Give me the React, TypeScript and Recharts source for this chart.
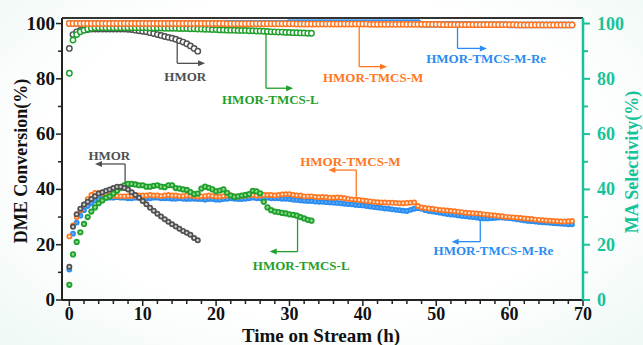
import { ComposedChart, Scatter, XAxis, YAxis, ReferenceLine, ReferenceDot, Label } from "recharts"

// sampling step of the measurements (h)
const STEP = 0.5

const xTicks = [0, 2, 4, 6, 8, 10, 12, 14, 16, 18, 20, 22, 24, 26, 28, 30, 32, 34, 36, 38, 40, 42, 44, 46, 48, 50, 52, 54, 56, 58, 60, 62, 64, 66, 68, 70]
const yTicks = [0, 10, 20, 30, 40, 50, 60, 70, 80, 90, 100]

// DME conversion (%)
const hmorConv = [12, 26.5, 31, 33, 34.5, 35.5, 36.5, 37.5, 38.5, 39, 39.5, 40, 40.5, 41, 41, 40.5, 40, 39, 38, 37, 35.8, 34.6, 33.4, 32.3, 31.2, 30.2, 29.2, 28.3, 27.4, 26.6, 25.8, 25, 24.3, 23.6, 22.4, 21.6]
const tmcsLConv = [
  5.5, 16.5, 21, 24.5, 27.5, 30, 32, 33.5, 35, 36,
  37, 37.5, 38.5, 39.5, 40.5, 41.5, 42, 42, 41.8, 41.5,
  41.5, 41, 41, 41.3, 41.5, 41, 40.8, 41.5, 41.5, 40.5,
  40.3, 40, 39.8, 39, 38.3, 38.5, 40.3, 41, 40.6, 40,
  39.3, 39.6, 40, 38.8, 37.8, 37.3, 37.5, 37.8, 38, 38.3,
  39.5, 39.3, 38.6, 35.5, 33.5, 32.5, 32, 31.8, 31.5, 31.3,
  31, 30.8, 30.5, 30, 29.5, 29, 28.7,
]
const tmcsMConv = [
  23, 27, 30, 32.5, 34.5, 36.5, 38, 38.7, 38.7, 38.5,
  38.2, 37.9, 37.7, 37.6, 37.5, 37.5, 37.6, 37.6, 37.7, 37.8,
  37.8, 37.8, 38, 37.8, 37.8, 37.6, 37.8, 38, 37.8, 37.8,
  37.6, 37.6, 37.8, 37.8, 37.6, 37.4, 37.5, 37.6, 37.8, 37.6,
  37.4, 37.4, 37.6, 37.8, 37.8, 37.6, 37.4, 37.6, 37.8, 38,
  38, 37.8, 37.8, 38, 38, 38, 37.8, 38, 38.2, 38.3,
  38.3, 38, 37.8, 37.8, 37.5, 37.5, 37.5, 37.3, 37.2, 37.3,
  37.2, 37, 37, 37.1, 37, 36.8, 36.6, 36.4, 36.3, 36.2,
  36, 35.8, 35.7, 35.5, 35.4, 35.3, 35.3, 35.2, 35.2, 35.1,
  35, 35, 35.1, 35.2, 35.3, 34, 33.5, 33.3, 33.1, 33,
  32.8, 32.6, 32.5, 32.4, 32.2, 32.1, 32, 31.8, 31.6, 31.5,
  31.4, 31.3, 31.2, 31, 30.9, 30.7, 30.6, 30.4, 30.3, 30.1,
  30, 29.9, 29.8, 29.7, 29.5, 29.4, 29.3, 29.1, 29, 28.9,
  28.8, 28.7, 28.6, 28.5, 28.4, 28.4, 28.5, 28.6,
]
const tmcsMReConv = [
  11, 24, 28, 30.5, 32.5, 34, 35, 36, 36.5, 36.8,
  37, 37, 37, 37.2, 37, 37, 36.8, 36.8, 37, 37,
  37, 36.8, 36.8, 37, 37, 36.8, 36.8, 36.8, 36.6, 36.6,
  36.8, 36.6, 36.5, 36.6, 36.6, 36.5, 36.5, 36.3, 36.5, 36.5,
  36.3, 36.3, 36.5, 36.6, 36.8, 36.6, 36.5, 36.5, 36.6, 36.8,
  37, 36.8, 36.8, 37, 37, 36.8, 36.8, 36.8, 36.6, 36.6,
  36.5, 36.3, 36.2, 36, 35.9, 35.8, 35.8, 35.6, 35.5, 35.5,
  35.4, 35.3, 35.2, 35.1, 35, 34.8, 34.7, 34.6, 34.4, 34.3,
  34.2, 34, 33.8, 33.6, 33.5, 33.3, 33.1, 33, 32.8, 32.6,
  32.5, 32.3, 32.2, 32.6, 33, 33.2, 33, 32.5, 32.2, 32,
  31.8, 31.6, 31.3, 31.1, 30.9, 30.8, 30.6, 30.4, 30.3, 30.1,
  30, 29.8, 29.6, 29.5, 29.5, 29.6, 29.7, 29.8, 29.8, 29.7,
  29.6, 29.4, 29.2, 29, 28.8, 28.6, 28.5, 28.4, 28.2, 28.1,
  28, 27.9, 27.8, 27.7, 27.6, 27.5, 27.4, 27.4,
]

// MA selectivity (%)
const hmorSel = [91, 96, 97, 97.5, 97.7, 97.8, 98, 98, 98, 98, 98, 98, 98, 98, 98, 98, 97.9, 97.8, 97.6, 97.4, 97.2, 97, 96.7, 96.4, 96, 95.7, 95.3, 95, 94.7, 94.3, 93.8, 93.3, 92.7, 91.9, 91, 90]
const tmcsLSel = [
  82, 94, 96, 97, 97.6, 98, 98.3, 98.5, 98.5, 98.5,
  98.5, 98.5, 98.5, 98.5, 98.5, 98.5, 98.5, 98.5, 98.5, 98.5,
  98.5, 98.5, 98.4, 98.4, 98.4, 98.4, 98.3, 98.3, 98.3, 98.3,
  98.2, 98.2, 98.2, 98.1, 98.1, 98, 98, 97.9, 97.9, 97.8,
  97.8, 97.7, 97.7, 97.6, 97.6, 97.6, 97.5, 97.5, 97.5, 97.4,
  97.4, 97.3, 97.3, 97.2, 97.1, 97, 97, 96.9, 96.9, 96.8,
  96.8, 96.7, 96.7, 96.6, 96.6, 96.5, 96.5,
]
const tmcsMSel = [
  100, 100, 100, 100, 100, 100, 100, 100, 100, 100,
  100, 100, 100, 100, 100, 100, 100, 100, 100, 100,
  100, 100, 100, 100, 100, 100, 100, 100, 100, 100,
  100, 100, 100, 100, 100, 100, 100, 100, 100, 100,
  100, 100, 100, 99.9, 99.9, 99.9, 99.9, 99.9, 99.9, 99.9,
  99.9, 99.9, 99.9, 99.9, 99.9, 99.9, 99.9, 99.9, 99.9, 99.9,
  99.9, 99.9, 99.8, 99.8, 99.8, 99.8, 99.8, 99.8, 99.8, 99.8,
  99.8, 99.8, 99.8, 99.8, 99.8, 99.8, 99.8, 99.8, 99.8, 99.8,
  99.8, 99.8, 99.7, 99.7, 99.7, 99.7, 99.7, 99.7, 99.7, 99.7,
  99.7, 99.7, 99.7, 99.7, 99.7, 99.7, 99.7, 99.7, 99.7, 99.7,
  99.7, 99.7, 99.6, 99.6, 99.6, 99.6, 99.6, 99.6, 99.6, 99.6,
  99.6, 99.6, 99.6, 99.6, 99.6, 99.6, 99.6, 99.6, 99.6, 99.6,
  99.6, 99.6, 99.5, 99.5, 99.5, 99.5, 99.5, 99.5, 99.5, 99.5,
  99.5, 99.5, 99.5, 99.5, 99.5, 99.5, 99.5, 99.5,
]
const tmcsMReSel = [
  100, 100, 100, 100, 100, 100, 100, 100, 100, 100,
  100, 100, 100, 100, 100, 100, 100, 100, 100, 100,
  100, 100, 100, 100, 100, 100, 100, 100, 100, 100,
  100, 100, 100, 100, 100, 100, 100, 100, 100, 100,
  100, 100, 100, 100, 100, 100, 100, 100, 100, 100,
  100, 100, 100, 100, 100, 100, 100, 100, 100, 100,
  100.3, 100.3, 100.3, 100.3, 100.3, 100.3, 100.3, 100.3, 100.3, 100.3,
  100.3, 100.3, 100.3, 100.3, 100.3, 100.3, 100.3, 100.3, 100.3, 100.3,
  100.3, 100.3, 100.3, 100.3, 100.3, 100.3, 100.3, 100.3, 100.3, 100.3,
  100.3, 100.3, 100.3, 100.3, 100.3, 100.3, 99.7, 99.7, 99.7, 99.7,
  99.7, 99.7, 99.7, 99.7, 99.7, 99.7, 99.7, 99.7, 99.7, 99.7,
  99.6, 99.6, 99.6, 99.6, 99.6, 99.6, 99.6, 99.6, 99.6, 99.6,
  99.5, 99.5, 99.5, 99.5, 99.5, 99.5, 99.5, 99.5, 99.5, 99.5,
  99.5, 99.5, 99.5, 99.5, 99.5, 99.5, 99.5, 99.5,
]

const GRAY = "#505050"
const GREEN = "#1f9f2b"
const ORANGE = "#ff7722"
const BLUE = "#2a8cf0"
const TEAL = "#17c29b"
const serif = { fontFamily: "'Liberation Serif', 'Times New Roman', Times, serif", fontWeight: 700 }

const toPoints = (vals: number[]) => vals.map((v, i) => ({ t: i * STEP, v }))

const ball = (fill: string, core: string, r = 2.9) => (p: any) => (
  <g>
    <circle cx={p.cx} cy={p.cy} r={r} fill={fill} />
    <circle cx={p.cx} cy={p.cy} r={r * 0.42} fill={core} />
  </g>
)
const ring = (stroke: string) => (p: any) => (
  <circle cx={p.cx} cy={p.cy} r={2.7} fill="#fff" stroke={stroke} strokeWidth={1.45} />
)

// annotations: stem [x, yFrom, yTo], arrow runs horizontally to arrowX at yTo
const notes = [
  { text: "HMOR", color: GRAY, stem: [14.7, 94.8, 85.6], arrowX: 18.5, tx: 15.8, ty: 81 },
  { text: "HMOR", color: GRAY, stem: [7.6, 41.5, 49.2], arrowX: 3.5, tx: 5.45, ty: 52.2 },
  { text: "HMOR-TMCS-L", color: GREEN, stem: [26.8, 97.3, 76.6], arrowX: 30.5, tx: 27.4, ty: 72.7 },
  { text: "HMOR-TMCS-M", color: ORANGE, stem: [39.5, 99.6, 84.4], arrowX: 43.3, tx: 41.4, ty: 80.4 },
  { text: "HMOR-TMCS-M-Re", color: BLUE, stem: [52.9, 99.6, 91], arrowX: 56.9, tx: 56.8, ty: 87.3 },
  { text: "HMOR-TMCS-M", color: ORANGE, stem: [39.1, 36.8, 47], arrowX: 35.3, tx: 38.3, ty: 50 },
  { text: "HMOR-TMCS-L", color: GREEN, stem: [31.1, 30.5, 17.5], arrowX: 27.3, tx: 31.6, ty: 12.5 },
  { text: "HMOR-TMCS-M-Re", color: BLUE, stem: [56, 30.8, 21.1], arrowX: 52.1, tx: 57.8, ty: 17.8 },
]

const plainLine = (color: string) => (p: any) => (
  <line x1={p.x1} y1={p.y1} x2={p.x2} y2={p.y2} stroke={color} strokeWidth={1.3} />
)
const arrowLine = (color: string) => (p: any) => {
  const dir = p.x2 > p.x1 ? 1 : -1
  return (
    <g>
      <line x1={p.x1} y1={p.y1} x2={p.x2 - dir * 5} y2={p.y2} stroke={color} strokeWidth={1.3} />
      <path d={`M${p.x2},${p.y2} L${p.x2 - dir * 7},${p.y2 - 3} L${p.x2 - dir * 7},${p.y2 + 3} Z`} fill={color} />
    </g>
  )
}

const XTick = (p: any) => {
  const v = p.payload.value
  const major = v % 10 === 0
  return (
    <g>
      <line x1={p.x} x2={p.x} y1={p.y} y2={p.y + (major ? 6 : 4)} stroke="#222" strokeWidth={1.5} />
      {major && (
        <text x={p.x} y={p.y + 20} textAnchor="middle" fontSize={18} style={serif} fill="#111">
          {v}
        </text>
      )}
    </g>
  )
}
const LeftTick = (p: any) => {
  const v = p.payload.value
  const major = v % 20 === 0
  return (
    <g>
      <line x1={p.x} x2={p.x - (major ? 6 : 4)} y1={p.y} y2={p.y} stroke="#222" strokeWidth={1.5} />
      {major && (
        <text x={p.x - 7} y={p.y + 6} textAnchor="end" fontSize={19} style={serif} fill="#111">
          {v}
        </text>
      )}
    </g>
  )
}
const RightTick = (p: any) => {
  const v = p.payload.value
  const major = v % 20 === 0
  return (
    <g>
      <line x1={p.x} x2={p.x + (major ? 7 : 5)} y1={p.y} y2={p.y} stroke={TEAL} strokeWidth={2} />
      {major && (
        <text x={p.x + 14} y={p.y + 6} textAnchor="start" fontSize={18} style={serif} fill={TEAL}>
          {v}
        </text>
      )}
    </g>
  )
}

export default function App() {
  return (
    <div
      style={{
        position: "absolute",
        left: 0,
        top: 0,
        width: 643,
        height: 345,
        background: "radial-gradient(ellipse at 50% 45%, #ffffff 60%, #eef8f5 100%)",
      }}
    >
      <ComposedChart width={643} height={345} margin={{ top: 18, right: 0, bottom: 0, left: 0 }}>
        <XAxis
          dataKey="t"
          type="number"
          domain={[-1, 70]}
          ticks={xTicks}
          interval={0}
          height={45}
          tickSize={0}
          tickMargin={0}
          tickLine={false}
          tick={XTick}
          axisLine={{ stroke: "#222", strokeWidth: 2 }}
        >
          <Label
            content={() => (
              <text x={321} y={342} textAnchor="middle" fontSize={19} style={serif} fill="#111">
                Time on Stream (h)
              </text>
            )}
          />
        </XAxis>
        <YAxis
          yAxisId="left"
          dataKey="v"
          type="number"
          domain={[0, 102]}
          ticks={yTicks}
          interval={0}
          width={62}
          tickSize={0}
          tickMargin={0}
          tickLine={false}
          tick={LeftTick}
          axisLine={{ stroke: "#222", strokeWidth: 2 }}
        >
          <Label
            content={() => (
              <text
                x={21}
                y={161}
                transform="rotate(-90 21 161)"
                textAnchor="middle"
                dominantBaseline="central"
                fontSize={18}
                style={serif}
                fill="#111"
              >
                DME Conversion(%)
              </text>
            )}
          />
        </YAxis>
        <YAxis
          yAxisId="right"
          orientation="right"
          dataKey="v"
          type="number"
          domain={[0, 102]}
          ticks={yTicks}
          interval={0}
          width={60}
          tickSize={0}
          tickMargin={0}
          tickLine={false}
          tick={RightTick}
          axisLine={{ stroke: TEAL, strokeWidth: 2.5 }}
        >
          <Label
            content={() => (
              <text
                x={632}
                y={162}
                transform="rotate(-90 632 162)"
                textAnchor="middle"
                dominantBaseline="central"
                fontSize={18}
                style={serif}
                fill={TEAL}
              >
                MA Selectivity(%)
              </text>
            )}
          />
        </YAxis>

        <ReferenceLine yAxisId="left" y={102} stroke="#333" strokeWidth={2} />

        {/* selectivity */}
        <Scatter yAxisId="right" data={toPoints(hmorSel)} shape={ring(GRAY)} isAnimationActive={false} />
        <Scatter yAxisId="right" data={toPoints(tmcsLSel)} shape={ring(GREEN)} isAnimationActive={false} />
        <Scatter yAxisId="right" data={toPoints(tmcsMReSel)} shape={ring(BLUE)} isAnimationActive={false} />
        <Scatter yAxisId="right" data={toPoints(tmcsMSel)} shape={ring(ORANGE)} isAnimationActive={false} />

        {/* conversion */}
        <Scatter yAxisId="left" data={toPoints(tmcsMReConv)} shape={ball(BLUE, "#5aa9f5", 2.9)} isAnimationActive={false} />
        <Scatter yAxisId="left" data={toPoints(tmcsMConv)} shape={ball(ORANGE, "#ffe6d4", 2.9)} isAnimationActive={false} />
        <Scatter yAxisId="left" data={toPoints(tmcsLConv)} shape={ball(GREEN, "#8fdc8f", 3.1)} isAnimationActive={false} />
        <Scatter yAxisId="left" data={toPoints(hmorConv)} shape={ball(GRAY, "#d0d0d0", 3)} isAnimationActive={false} />

        {notes.map((n, i) => (
          <ReferenceLine
            key={`s${i}`}
            yAxisId="left"
            segment={[
              { x: n.stem[0], y: n.stem[1] },
              { x: n.stem[0], y: n.stem[2] },
            ]}
            shape={plainLine(n.color)}
          />
        ))}
        {notes.map((n, i) => (
          <ReferenceLine
            key={`a${i}`}
            yAxisId="left"
            segment={[
              { x: n.stem[0], y: n.stem[2] },
              { x: n.arrowX, y: n.stem[2] },
            ]}
            shape={arrowLine(n.color)}
          />
        ))}
        {notes.map((n, i) => (
          <ReferenceDot
            key={`t${i}`}
            yAxisId="left"
            x={n.tx}
            y={n.ty}
            r={0}
            shape={(p: any) => (
              <text
                x={p.cx}
                y={p.cy}
                textAnchor="middle"
                dominantBaseline="central"
                fontSize={13}
                style={serif}
                fill={n.color}
              >
                {n.text}
              </text>
            )}
          />
        ))}
      </ComposedChart>
    </div>
  )
}
